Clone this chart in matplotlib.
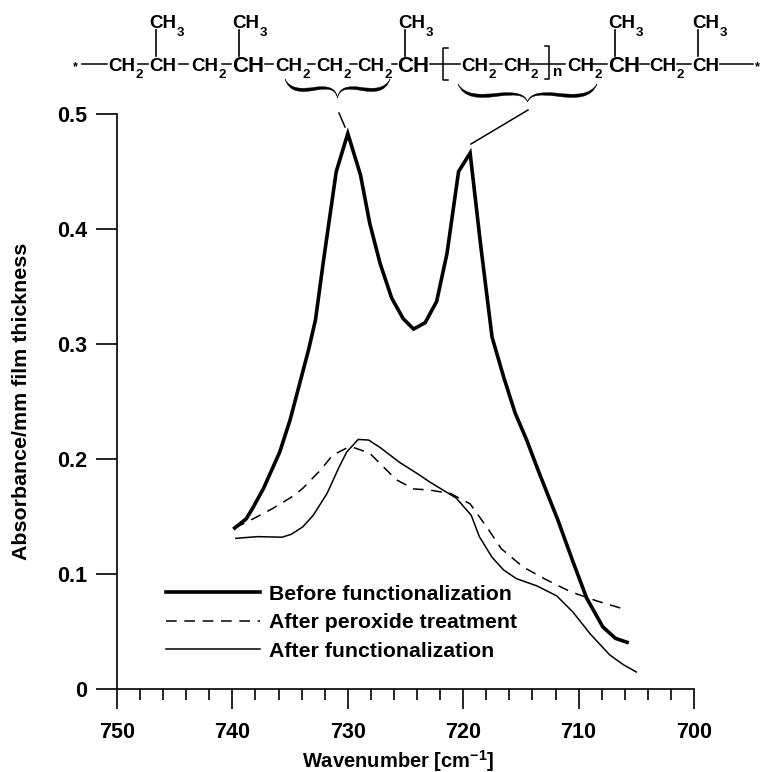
import matplotlib
matplotlib.use("Agg")
import matplotlib.pyplot as plt
from matplotlib.path import Path
from matplotlib.patches import PathPatch

plt.rcParams['font.family'] = ['Liberation Sans', 'DejaVu Sans']
plt.rcParams['font.weight'] = 'bold'
plt.rcParams['mathtext.fontset'] = 'custom'
plt.rcParams['mathtext.rm'] = 'Liberation Sans:bold'
plt.rcParams['mathtext.bf'] = 'Liberation Sans:bold'
plt.rcParams['mathtext.default'] = 'bf'

before_x = [739.8, 738.8, 738.2, 737.3, 735.9, 735, 733.4, 732.8, 732.1, 731, 730, 728.9, 728.1, 727.2, 726.2, 725.2,
            724.3, 723.3, 722.3, 721.4, 720.4, 719.4, 718.5, 717.5, 716.5, 715.5, 714.5, 713.5, 711.8, 710.5, 709.3,
            707.9, 706.8, 705.8]
before_y = [.14, .148, .158, .1745, .206, .234, .295, .321, .373, .45, .483, .447, .405, .37, .34, .322,
            .313, .3185, .337, .379, .45, .466, .387, .306, .2715, .24, .2165, .19, .147, .111, .079,
            .054, .044, .0406]
perox_x = [739.8, 738.2, 736.5, 734.7, 733.9, 732.4, 731.3, 730, 729.5, 728.1, 726.9, 725.8, 724.3, 722.9, 721.1,
           719.4, 717.9, 716.7, 714.8, 712.8, 710.7, 708.4, 706.1]
perox_y = [.14, .148, .157, .168, .1745, .19, .2035, .21, .21, .205, .193, .182, .174, .173, .17,
           .161, .14, .122, .106, .095, .0846, .0765, .0696]
after_x = [739.7, 737.8, 735.7, 734.9, 733.9, 733, 731.8, 730.8, 730.1, 729.1, 728.2, 727.2, 725.5, 723.7, 722.9,
           720.6, 719.3, 718.6, 717.5, 716.5, 715.4, 713.6, 711.9, 710.5, 709, 707.3, 706.1, 705]
after_y = [.131, .1325, .132, .1345, .141, .151, .17, .192, .206, .217, .2165, .21, .197, .1855, .18,
           .166, .151, .1325, .1145, .1035, .096, .0896, .081, .067, .048, .0296, .021, .0148]
series_labels = ['Before functionalization', 'After peroxide treatment', 'After functionalization']
x_ticks = [750, 740, 730, 720, 710, 700]
y_ticks = [0, 0.1, 0.2, 0.3, 0.4, 0.5]

W, H = 760, 772
fig = plt.figure(figsize=(W / 100, H / 100), dpi=100)
ax = fig.add_axes([117 / W, 1 - 689 / H, 577 / W, 575 / H])
ax.plot(before_x, before_y, color='k', lw=2.6, label=series_labels[0], solid_joinstyle='miter')
ax.plot(perox_x, perox_y, color='k', lw=1.1, dashes=(7, 5), label=series_labels[1])
ax.plot(after_x, after_y, color='k', lw=1.1, label=series_labels[2])
ax.set_xlim(750, 700)
ax.set_ylim(0, 0.5)
for s in ('top', 'right'):
    ax.spines[s].set_visible(False)
for s in ('left', 'bottom'):
    ax.spines[s].set_linewidth(1.2)
ax.set_xticks(x_ticks)
ax.set_xticks(range(700, 751, 2), minor=True)
ax.set_yticks(y_ticks)
ax.set_yticklabels(['0', '0.1', '0.2', '0.3', '0.4', '0.5'])
ax.tick_params(axis='x', which='major', length=14.4, width=1.2, labelsize=15.5, pad=9)
ax.tick_params(axis='x', which='minor', length=7.7, width=1.2)
ax.tick_params(axis='y', which='major', length=15, width=1.2, labelsize=15.5, pad=6.5)
ax.set_xlabel('Wavenumber [cm$^{-1}$]', fontsize=14.5, fontweight='bold', va='center')
ax.xaxis.set_label_coords(0.487, -0.1245)
ax.set_ylabel('Absorbance/mm film thickness', fontsize=15.4, fontweight='bold', va='center')
ax.yaxis.set_label_coords(-0.165, 0.5)
ax.legend(loc='upper left', bbox_to_anchor=(0.085, 0.181), frameon=False, fontsize=15.3,
          borderpad=0, borderaxespad=0, handlelength=4.4, handletextpad=0.45, labelspacing=0.445)

# Overlay in pixel coordinates for the chemical structure
ov = fig.add_axes([0, 0, 1, 1], facecolor='none')
ov.set_xlim(0, W)
ov.set_ylim(H, 0)
ov.axis('off')

MAIN_Y = 66.5


def group(x, label, size=13.5, sub=None):
    ov.text(x, MAIN_Y, label, fontsize=size, ha='left', va='center')
    if sub:
        ov.text(x + 27.5, MAIN_Y + 9, sub, fontsize=9.5, ha='left', va='center')


for x in (108, 191, 275, 316, 357, 461, 503, 567, 649):
    group(x, 'CH', sub='2')
for x in (149, 692):
    group(x, 'CH')
for x in (232, 397, 608):
    group(x, 'CH', size=16)
for x in (149, 232, 398, 608, 692):
    ov.text(x, 24, 'CH', fontsize=13.5, ha='left', va='center')
    ov.text(x + 27.5, 33, '3', fontsize=9.5, ha='left', va='center')
for x in (156, 239, 405, 615, 698):
    ov.plot([x, x], [30, 56], color='k', lw=1.2)
bonds = [(82, 107), (138, 148), (179, 188), (222, 231), (265, 273), (308, 315), (350, 357), (392, 397),
         (430, 460), (490, 502), (530, 565), (593, 607), (640, 649), (677, 691), (720, 753)]
for a, b in bonds:
    ov.plot([a, b], [64, 64], color='k', lw=1.1)
ov.text(75, 67, '*', fontsize=9, ha='center', va='center')
ov.text(757, 67, '*', fontsize=9, ha='center', va='center')
# square brackets
ov.plot([448, 443, 443, 448], [48, 48, 80, 80], color='k', lw=1.1)
ov.plot([545, 549, 549, 545], [46, 46, 79, 79], color='k', lw=1.1)
ov.text(553, 72, 'n', fontsize=11, ha='left', va='center')


def brace(x0, x1, y0, yb, ytip):
    xm = (x0 + x1) / 2
    L = (x1 - x0) / 2
    outline = [(1.0, y0), (.92, yb + 2.5), (.7, yb + 3), (.4, yb), (.2, yb - 1.5), (.05, yb - 2), (0, ytip),
               (.03, yb - 3), (.2, yb - 4), (.4, yb - 3), (.7, yb - .5), (.9, yb - 1), (1.0, y0)]
    for sgn in (-1, 1):
        pts = [(xm + sgn * L * a, b) for a, b in outline]
        codes = [Path.MOVETO] + [Path.CURVE4] * 12
        ov.add_patch(PathPatch(Path(pts, codes), facecolor='k', edgecolor='k', lw=0.3))


brace(285, 390, 79, 90, 98)
brace(458, 597, 84, 96, 102)
ov.plot([339, 345], [113, 127], color='k', lw=1.1)
ov.plot([528, 471], [110, 144], color='k', lw=1.1)

fig.savefig('out.png', dpi=100)
